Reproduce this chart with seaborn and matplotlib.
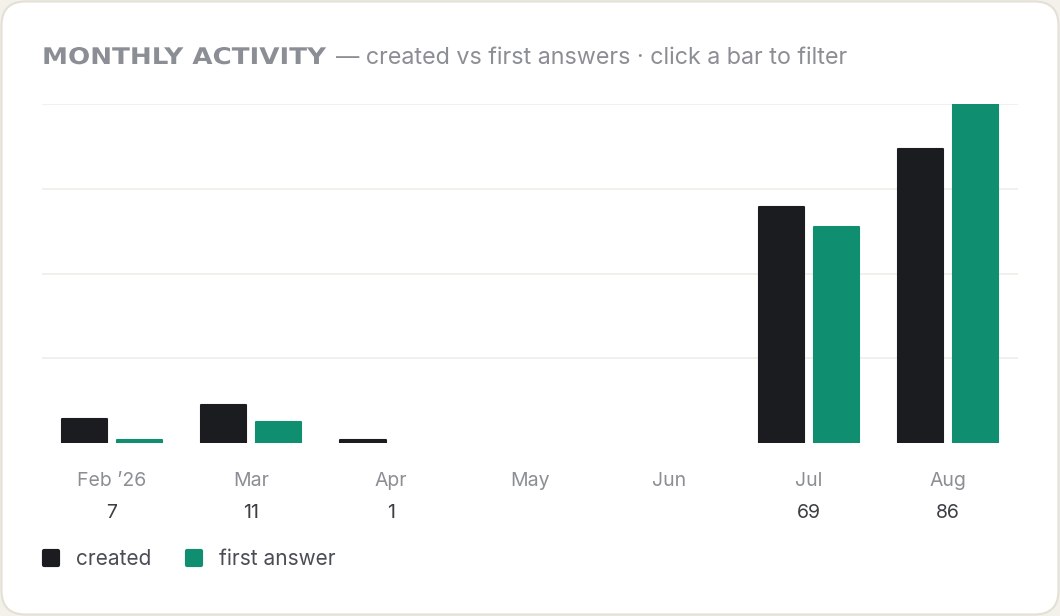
import numpy as np
import pandas as pd
import seaborn as sns
import matplotlib.pyplot as plt
from matplotlib.patches import FancyBboxPatch
from matplotlib.lines import Line2D
from matplotlib.markers import MarkerStyle
from matplotlib.transforms import IdentityTransform, Affine2D
from matplotlib.patheffects import AbstractPathEffect

months = ["Feb \u201926", "Mar", "Apr", "May", "Jun", "Jul", "Aug"]
created = [7, 11, 1, 0, 0, 69, 86]
first_answer = [1, 6, 0, 0, 0, 63, 99]
totals = ["7", "11", "1", "", "", "69", "86"]

series_names = ["created", "first answer"]
colors = {"created": "#1b1c20", "first answer": "#0f8f6f"}

df = pd.DataFrame({
    "month": months * 2,
    "value": created + first_answer,
    "series": ["created"] * len(months) + ["first answer"] * len(months),
})


class StretchX(AbstractPathEffect):
    # widen glyphs horizontally around a fixed x (pixels), like a wide tracked heading font
    def __init__(self, x0, sx):
        super().__init__()
        self.x0 = x0
        self.sx = sx

    def draw_path(self, renderer, gc, tpath, affine, rgbFace=None):
        affine = affine + Affine2D().translate(-self.x0, 0).scale(self.sx, 1).translate(self.x0, 0)
        renderer.draw_path(gc, tpath, affine, rgbFace)


sns.set_theme(style="white")
plt.rcParams["font.family"] = ["Inter", "DejaVu Sans"]

W, H = 1060, 616
fig = plt.figure(figsize=(W / 100, H / 100), dpi=100)
fig.patch.set_facecolor("#f3f1ea")

# card
card = FancyBboxPatch((1.5, 1.5), W - 3, H - 3, boxstyle="round,pad=0,rounding_size=24",
                      transform=IdentityTransform(), facecolor="white",
                      edgecolor="#e3e0d5", linewidth=1.5, zorder=-10)
fig.patches.append(card)

ax = fig.add_axes([42 / W, 173 / H, 976 / W, 339 / H])
ax.set_facecolor("none")

sns.barplot(data=df, x="month", y="value", hue="series", palette=colors,
            width=0.79, gap=0.18, ax=ax, legend=False, saturation=1)

for p in ax.patches:
    if p.get_height() > 0:
        p.set_edgecolor(p.get_facecolor())
        p.set_linewidth(1.5)
        p.set_joinstyle("round")
    else:
        p.set_linewidth(0)

ymax = max(first_answer + created)
ax.set_ylim(0, ymax)
ax.set_yticks(np.linspace(0, ymax, 5)[1:])
ax.yaxis.grid(True, color="#efede7", linewidth=1.2)
ax.set_axisbelow(True)
ax.tick_params(axis="y", left=False, labelleft=False)
ax.tick_params(axis="x", bottom=False, pad=15, labelsize=14, labelcolor="#8b8e94")
ax.set_xlabel("")
ax.set_ylabel("")
for s in ax.spines.values():
    s.set_visible(False)

for i, t in enumerate(totals):
    ax.annotate(t, (i, 0), xycoords=("data", "axes fraction"), xytext=(0, -70),
                textcoords="offset pixels", ha="center", va="center",
                fontsize=14, color="#3b3e44")

# title
sx = 1.14
title = fig.text(42 / W, 1 - 64 / H, "MONTHLY ACTIVITY", fontsize=16.5, fontweight="bold",
                 family=["DejaVu Sans"], color="#8b8e94", va="baseline", ha="left",
                 path_effects=[StretchX(42, sx)])
fig.canvas.draw()
bb = title.get_window_extent()
x_end = 42 + (bb.x1 - 42) * sx
fig.text((x_end + 10) / W, 1 - 64 / H, "\u2014 created vs first answers \u00b7 click a bar to filter",
         fontsize=16.8, color="#8b8e94", va="baseline", ha="left")

handles = [Line2D([], [], linestyle="none", marker=MarkerStyle("s", joinstyle="round"),
                  markersize=10.5, markerfacecolor=colors[n], markeredgecolor=colors[n],
                  markeredgewidth=3) for n in series_names]
fig.legend(handles, series_names, loc="center left", bbox_to_anchor=(42 / W, 1 - 559 / H),
           ncol=2, frameon=False, fontsize=15, labelcolor="#4a4d55",
           borderpad=0, borderaxespad=0,
           handlelength=0.9, handletextpad=0.75, columnspacing=1.6)

fig.savefig("out.png", dpi=100, facecolor=fig.get_facecolor())
